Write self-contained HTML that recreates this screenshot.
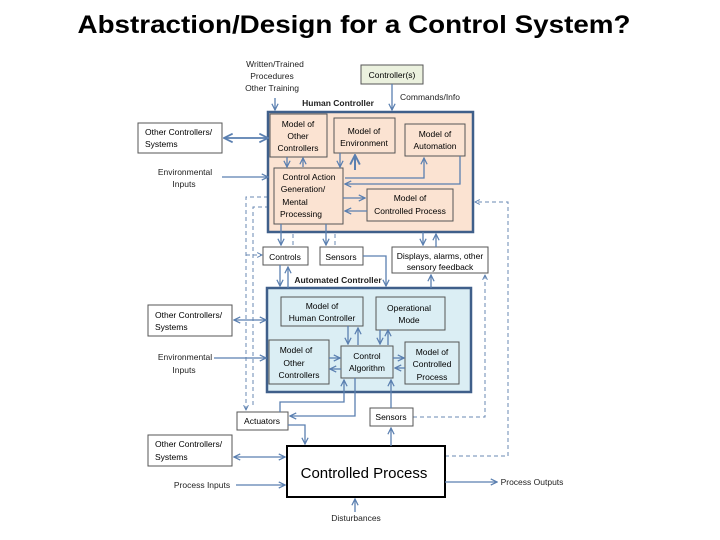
<!DOCTYPE html>
<html><head><meta charset="utf-8"><style>
html,body{margin:0;padding:0;background:#fff;}
svg{display:block;font-family:"Liberation Sans",sans-serif;}
</style></head><body>
<svg width="720" height="540" viewBox="0 0 720 540" xmlns="http://www.w3.org/2000/svg">
<defs>
<marker id="a" viewBox="0 0 10 10" refX="9" refY="5" markerWidth="6" markerHeight="6" orient="auto-start-reverse"><path d="M1,1 L9,5 L1,9" fill="none" stroke="#5a7fb0" stroke-width="1.6"/></marker>
</defs>
<text x="354" y="33" text-anchor="middle" font-size="25" font-weight="bold" textLength="553" lengthAdjust="spacingAndGlyphs">Abstraction/Design for a Control System?</text>

<g font-size="8.5" fill="#222" text-anchor="middle">
<text x="275" y="67">Written/Trained</text>
<text x="272" y="79">Procedures</text>
<text x="272" y="91">Other Training</text>
<text x="430" y="100">Commands/Info</text>
<text x="338" y="106" font-weight="bold">Human Controller</text>
<text x="185" y="175">Environmental</text>
<text x="184" y="187">Inputs</text>
<text x="338" y="283" font-weight="bold">Automated Controller</text>
<text x="185" y="360">Environmental</text>
<text x="184" y="373">Inputs</text>
<text x="202" y="488">Process Inputs</text>
<text x="532" y="485">Process Outputs</text>
<text x="356" y="521">Disturbances</text>
</g>

<!-- dashed lines -->
<g fill="none" stroke="#6a88b3" stroke-width="1" stroke-dasharray="4,3">
<path d="M268 197 H246 V410" marker-end="url(#a)"/>
<path d="M253 405 V207 H272" marker-end="url(#a)"/>
<path d="M445 456 H508 V202 H475" marker-end="url(#a)"/>
<path d="M413 417 H485 V275" marker-end="url(#a)"/>
<path d="M246 255 H262" marker-end="url(#a)"/>
<path d="M293 245 V225" marker-end="url(#a)"/>
<path d="M335 245 V225" marker-end="url(#a)"/>
</g>

<!-- human controller -->
<rect x="268" y="112" width="205" height="120" fill="#fbe3d2" stroke="#3f5f8a" stroke-width="2.5"/>
<rect x="361" y="65" width="62" height="19" fill="#ebf1de" stroke="#555" stroke-width="1"/>
<text x="392" y="78" font-size="8.5" text-anchor="middle">Controller(s)</text>

<g fill="#fbe3d2" stroke="#555" stroke-width="1">
<rect x="270" y="114" width="57" height="43"/>
<rect x="334" y="118" width="61" height="35"/>
<rect x="405" y="124" width="60" height="32"/>
<rect x="274" y="168" width="69" height="56"/>
<rect x="367" y="189" width="86" height="32"/>
</g>
<g font-size="8.5" text-anchor="middle">
<text x="298" y="127">Model of</text><text x="298" y="139">Other</text><text x="298" y="151">Controllers</text>
<text x="364" y="134">Model of</text><text x="364" y="146">Environment</text>
<text x="435" y="137">Model of</text><text x="435" y="149">Automation</text>
<text x="309" y="180">Control Action</text><text x="303" y="192">Generation/</text><text x="295" y="205">Mental</text><text x="301" y="217">Processing</text>
<text x="410" y="201">Model of</text><text x="410" y="214">Controlled Process</text>
</g>

<rect x="138" y="123" width="84" height="30" fill="#fff" stroke="#555"/>
<text x="145" y="135" font-size="8.5">Other Controllers/</text><text x="145" y="147" font-size="8.5">Systems</text>

<!-- middle boxes -->
<g fill="#fff" stroke="#555" stroke-width="1">
<rect x="263" y="247" width="45" height="18"/>
<rect x="320" y="247" width="43" height="18"/>
<rect x="392" y="247" width="96" height="26"/>
</g>
<g font-size="8.5" text-anchor="middle">
<text x="285" y="260">Controls</text>
<text x="341" y="260">Sensors</text>
<text x="440" y="259">Displays, alarms, other</text>
<text x="440" y="270">sensory feedback</text>
</g>

<!-- automated controller -->
<rect x="267" y="288" width="204" height="104" fill="#dbeef4" stroke="#3f5f8a" stroke-width="2.5"/>
<g fill="#dbeef4" stroke="#555" stroke-width="1">
<rect x="281" y="297" width="82" height="29"/>
<rect x="376" y="297" width="69" height="33"/>
<rect x="269" y="340" width="60" height="44"/>
<rect x="341" y="346" width="52" height="32"/>
<rect x="405" y="342" width="54" height="42"/>
</g>
<g font-size="8.5" text-anchor="middle">
<text x="322" y="309">Model of</text><text x="322" y="321">Human Controller</text>
<text x="409" y="311">Operational</text><text x="409" y="323">Mode</text>
<text x="296" y="353">Model of</text><text x="294" y="366">Other</text><text x="299" y="378">Controllers</text>
<text x="367" y="359">Control</text><text x="367" y="371">Algorithm</text>
<text x="432" y="355">Model of</text><text x="432" y="367">Controlled</text><text x="432" y="380">Process</text>
</g>

<rect x="148" y="305" width="84" height="31" fill="#fff" stroke="#555"/>
<text x="155" y="318" font-size="8.5">Other Controllers/</text><text x="155" y="330" font-size="8.5">Systems</text>

<g fill="#fff" stroke="#555">
<rect x="237" y="412" width="51" height="18"/>
<rect x="370" y="408" width="43" height="18"/>
<rect x="148" y="435" width="84" height="31"/>
</g>
<g font-size="8.5">
<text x="262" y="424" text-anchor="middle">Actuators</text>
<text x="391" y="420" text-anchor="middle">Sensors</text>
<text x="155" y="447">Other Controllers/</text><text x="155" y="460">Systems</text>
</g>

<rect x="287" y="446" width="158" height="51" fill="#fff" stroke="#000" stroke-width="2"/>
<text x="364" y="478" font-size="15" text-anchor="middle">Controlled Process</text>

<!-- solid arrows -->
<g fill="none" stroke="#5a7fb0" stroke-width="1.3">
<path d="M275 98 V110" marker-end="url(#a)"/>
<path d="M392 84 V110" marker-end="url(#a)"/>
<path d="M224 138 H268" marker-end="url(#a)" marker-start="url(#a)" stroke-width="1.8"/>
<path d="M222 177 H268" marker-end="url(#a)"/>
<path d="M287 157 V167" marker-end="url(#a)"/>
<path d="M303 167 V158" marker-end="url(#a)"/>
<path d="M340 153 V167" marker-end="url(#a)"/>
<path d="M355 170 V155" marker-end="url(#a)" stroke-width="2"/>
<path d="M460 156 V184 H345" marker-end="url(#a)"/>
<path d="M345 178 H424 V158" marker-end="url(#a)"/>
<path d="M343 198 H365" marker-end="url(#a)"/>
<path d="M367 211 H345" marker-end="url(#a)"/>
<path d="M281 224 V245" marker-end="url(#a)"/>
<path d="M326 224 V245" marker-end="url(#a)"/>
<path d="M423 232 V245" marker-end="url(#a)"/>
<path d="M436 247 V234" marker-end="url(#a)"/>
<path d="M280 265 V286" marker-end="url(#a)"/>
<path d="M288 288 V267" marker-end="url(#a)"/>
<path d="M363 256 H386 V286" marker-end="url(#a)"/>
<path d="M431 288 V275" marker-end="url(#a)"/>
<path d="M234 320 H266" marker-end="url(#a)" marker-start="url(#a)"/>
<path d="M214 358 H266" marker-end="url(#a)"/>
<path d="M348 326 V344" marker-end="url(#a)"/>
<path d="M358 345 V328" marker-end="url(#a)"/>
<path d="M380 330 V344" marker-end="url(#a)"/>
<path d="M388 345 V330" marker-end="url(#a)"/>
<path d="M329 358 H340" marker-end="url(#a)"/>
<path d="M341 369 H330" marker-end="url(#a)"/>
<path d="M393 358 H404" marker-end="url(#a)"/>
<path d="M405 368 H395" marker-end="url(#a)"/>
<path d="M280 412 V402 H344 V380" marker-end="url(#a)"/>
<path d="M355 378 V416 H290" marker-end="url(#a)"/>
<path d="M391 408 V380" marker-end="url(#a)"/>
<path d="M288 425 H305 V444" marker-end="url(#a)"/>
<path d="M391 446 V428" marker-end="url(#a)"/>
<path d="M234 457 H285" marker-end="url(#a)" marker-start="url(#a)"/>
<path d="M236 485 H285" marker-end="url(#a)"/>
<path d="M445 482 H497" marker-end="url(#a)"/>
<path d="M355 512 V499" marker-end="url(#a)"/>
</g>
</svg>
</body></html>
